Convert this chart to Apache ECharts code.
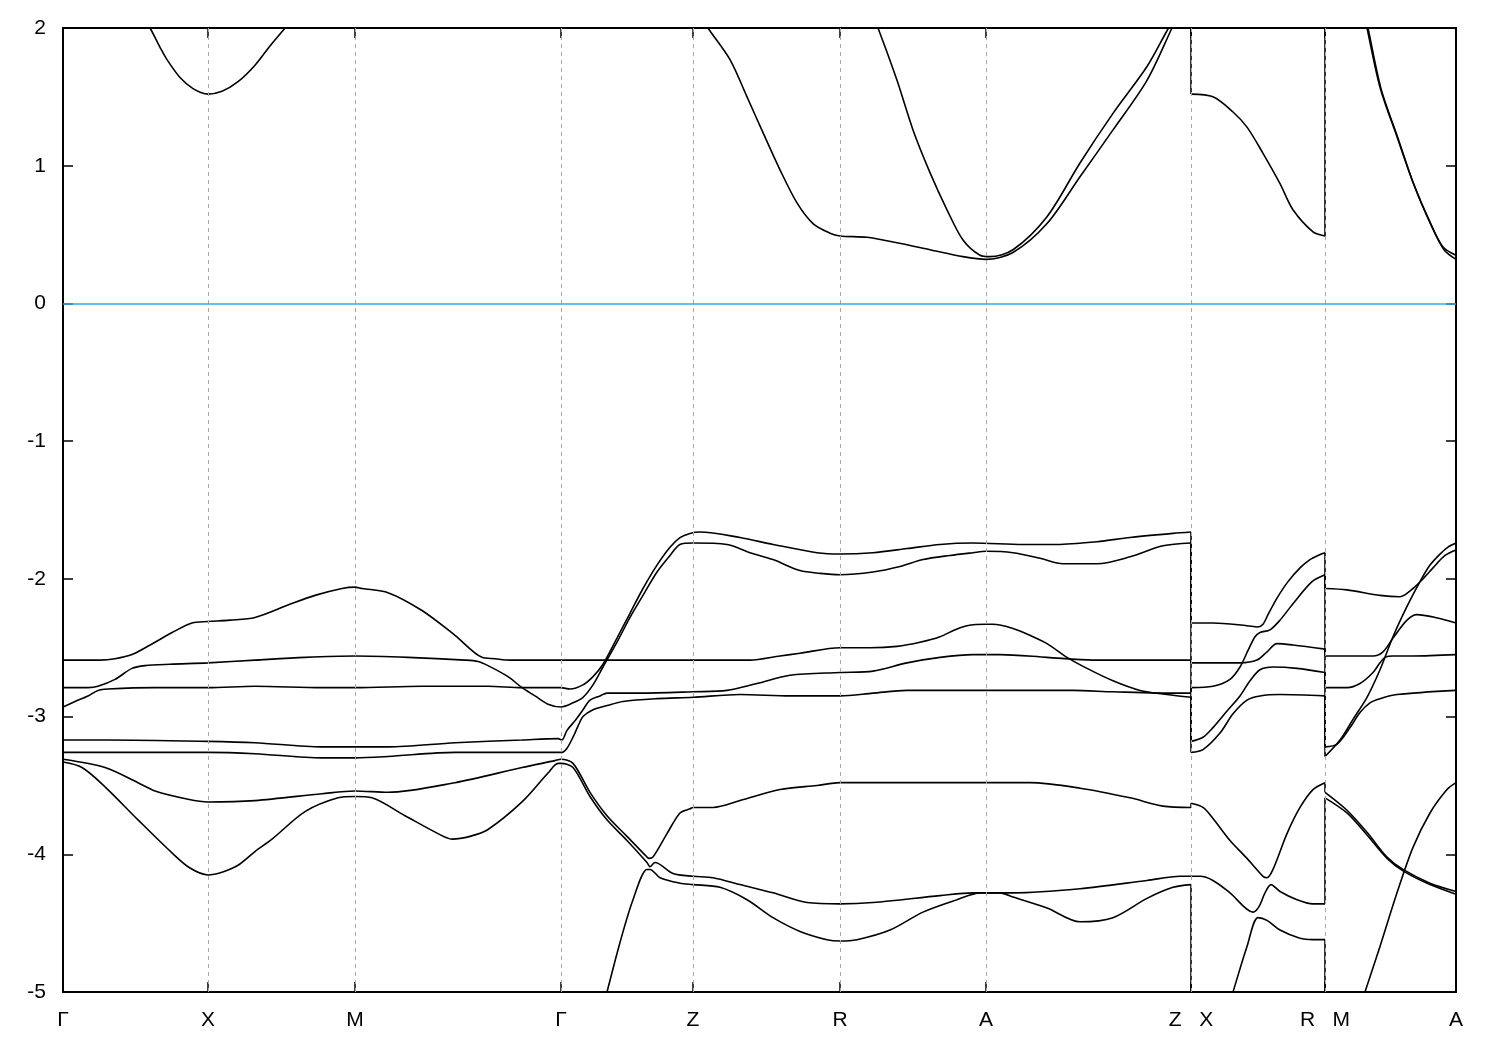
<!DOCTYPE html>
<html><head><meta charset="utf-8">
<script src="https://cdn.jsdelivr.net/npm/echarts@6/dist/echarts.min.js"></script>
<style>html,body{margin:0;padding:0;background:#fff}#main{width:1500px;height:1050px}</style>
</head><body><div id="main"></div>
<script>
// k-path positions of the high-symmetry points and their labels
const KPOS = [0, 145, 292, 498, 630, 777, 923, 1128, 1262, 1393];
const KLABELS = ['Γ', 'X', 'M', 'Γ', 'Z', 'R', 'A', 'Z   X', 'R   M', 'A'];
const YTICKS = [-5, -4, -3, -2, -1, 0, 1, 2];
const FERMI = 0;

// bands: [k, energy (eV)] ; repeated k = jump at a path discontinuity
const BAND_1 = [[0,-2.93],[12,-2.89],[25,-2.85],[35,-2.81],[45,-2.80],[92,-2.79],[145,-2.79],[192,-2.78],[259,-2.79],[292,-2.79],[359,-2.78],[425,-2.78],[459,-2.79],[498,-2.79],
 [507,-2.80],[520,-2.77],[530,-2.71],[540,-2.62],[554,-2.43],[567,-2.25],[580,-2.07],[594,-1.90],[607,-1.77],[617,-1.70],[627,-1.67],[637,-1.66],[677,-1.70],[710,-1.75],[754,-1.81],[777,-1.82],[810,-1.81],[844,-1.78],[877,-1.75],[910,-1.74],[960,-1.75],[994,-1.75],[1034,-1.73],[1067,-1.70],[1110,-1.67],[1128,-1.66],
 [1128,-2.32],[1150,-2.32],[1184,-2.34],[1195,-2.35],[1200,-2.33],[1205,-2.26],[1214,-2.14],[1225,-2.02],[1237,-1.92],[1247,-1.86],[1255,-1.83],[1262,-1.81],
 [1262,-2.07],[1284,-2.08],[1317,-2.12],[1337,-2.13],[1350,-2.07],[1360,-2.00],[1370,-1.92],[1382,-1.83],[1393,-1.79]];
const BAND_2 = [[0,-2.79],[25,-2.79],[35,-2.78],[52,-2.73],[69,-2.65],[82,-2.63],[107,-2.62],[145,-2.61],[192,-2.59],[242,-2.57],[292,-2.56],[345,-2.57],[402,-2.59],[415,-2.60],[425,-2.63],[445,-2.71],[459,-2.79],[472,-2.85],[485,-2.91],[498,-2.93],
 [510,-2.90],[520,-2.86],[530,-2.77],[540,-2.64],[554,-2.46],[567,-2.28],[580,-2.12],[594,-1.95],[607,-1.83],[617,-1.75],[630,-1.74],[664,-1.75],[687,-1.81],[710,-1.86],[737,-1.94],[757,-1.96],[777,-1.97],[810,-1.95],[837,-1.91],[860,-1.86],[887,-1.83],[910,-1.81],[923,-1.80],[950,-1.81],[977,-1.85],[1000,-1.89],[1034,-1.89],[1067,-1.84],[1100,-1.76],[1128,-1.74],
 [1128,-2.61],[1177,-2.61],[1194,-2.59],[1204,-2.53],[1214,-2.47],[1230,-2.48],[1262,-2.51],
 [1262,-2.56],[1310,-2.56],[1320,-2.53],[1330,-2.43],[1344,-2.30],[1354,-2.26],[1372,-2.28],[1393,-2.32]];
const BAND_3 = [[0,-2.59],[37,-2.59],[52,-2.58],[69,-2.55],[92,-2.46],[109,-2.39],[129,-2.32],[145,-2.31],[167,-2.30],[192,-2.28],[225,-2.19],[252,-2.12],[279,-2.07],[292,-2.06],[299,-2.07],[325,-2.10],[359,-2.23],[392,-2.41],[419,-2.57],[432,-2.58],[447,-2.59],[498,-2.59],
 [687,-2.59],[717,-2.56],[737,-2.54],[777,-2.50],[807,-2.50],[834,-2.49],[857,-2.46],[877,-2.42],[892,-2.37],[904,-2.34],[923,-2.33],[930,-2.33],[950,-2.36],[967,-2.41],[984,-2.47],[1004,-2.57],[1024,-2.65],[1050,-2.74],[1077,-2.81],[1104,-2.84],[1128,-2.86],
 [1128,-3.26],[1140,-3.24],[1157,-3.12],[1170,-2.98],[1184,-2.88],[1197,-2.85],[1217,-2.84],[1262,-2.85],
 [1262,-3.29],[1277,-3.17],[1290,-3.02],[1304,-2.86],[1317,-2.66],[1330,-2.42],[1344,-2.20],[1357,-2.02],[1367,-1.90],[1377,-1.82],[1385,-1.77],[1393,-1.74]];
const BAND_4 = [[0,-3.17],[45,-3.17],[145,-3.18],[192,-3.19],[259,-3.22],[292,-3.22],[325,-3.22],[392,-3.19],[459,-3.17],[495,-3.16],[499,-3.17],
 [504,-3.10],[512,-3.03],[520,-2.95],[527,-2.88],[537,-2.85],[544,-2.83],[577,-2.83],[630,-2.82],[664,-2.81],[694,-2.76],[727,-2.70],[777,-2.68],[810,-2.67],[844,-2.61],[877,-2.57],[910,-2.55],[937,-2.55],[984,-2.57],[1030,-2.59],[1128,-2.59],
 [1128,-3.18],[1140,-3.15],[1150,-3.08],[1164,-2.96],[1177,-2.85],[1187,-2.74],[1197,-2.66],[1210,-2.64],[1234,-2.65],[1262,-2.68],
 [1262,-2.79],[1284,-2.79],[1297,-2.76],[1310,-2.68],[1317,-2.61],[1322,-2.57],[1330,-2.56],[1350,-2.56],[1393,-2.55]];
const BAND_5 = [[0,-3.26],[45,-3.26],[145,-3.26],[192,-3.27],[259,-3.30],[292,-3.30],[325,-3.29],[392,-3.26],[459,-3.26],[495,-3.26],[499,-3.26],
 [504,-3.23],[510,-3.15],[515,-3.07],[520,-3.00],[530,-2.95],[544,-2.92],[560,-2.89],[594,-2.87],[630,-2.86],[677,-2.84],[727,-2.85],[777,-2.85],[810,-2.83],[844,-2.81],[937,-2.81],[1010,-2.81],[1050,-2.82],[1117,-2.83],[1128,-2.83],
 [1128,-2.79],[1150,-2.78],[1167,-2.73],[1177,-2.64],[1185,-2.52],[1192,-2.42],[1197,-2.39],[1207,-2.37],[1217,-2.30],[1230,-2.18],[1249,-2.02],[1262,-1.97],
 [1262,-3.22],[1274,-3.20],[1287,-3.08],[1297,-2.97],[1307,-2.90],[1317,-2.87],[1334,-2.84],[1393,-2.81]];
const BAND_6 = [[0,-3.31],[42,-3.37],[75,-3.48],[92,-3.54],[125,-3.60],[145,-3.62],[192,-3.61],[259,-3.56],[292,-3.54],[325,-3.55],[392,-3.48],[459,-3.37],[492,-3.32],[498,-3.31],
 [510,-3.34],[527,-3.55],[544,-3.72],[564,-3.87],[584,-4.02],[586,-4.03],[590,-4.02],[604,-3.85],[617,-3.70],[627,-3.67],[630,-3.66],[650,-3.66],[677,-3.61],[717,-3.53],[754,-3.50],[777,-3.48],[937,-3.48],[967,-3.48],[1017,-3.52],[1067,-3.59],[1100,-3.65],[1128,-3.66],
 [1128,-3.63],[1140,-3.66],[1150,-3.74],[1167,-3.90],[1184,-4.03],[1200,-4.16],[1204,-4.17],[1210,-4.11],[1224,-3.85],[1237,-3.66],[1250,-3.53],[1262,-3.48],
 [1262,-3.55],[1284,-3.68],[1304,-3.84],[1324,-4.02],[1340,-4.11],[1367,-4.21],[1393,-4.27]];
const BAND_7 = [[0,-3.33],[19,-3.37],[42,-3.51],[75,-3.75],[109,-3.99],[127,-4.10],[145,-4.15],[159,-4.13],[175,-4.08],[192,-3.98],[209,-3.89],[242,-3.69],[275,-3.59],[292,-3.58],[309,-3.59],[342,-3.72],[375,-3.85],[389,-3.89],[407,-3.87],[425,-3.82],[459,-3.62],[485,-3.41],[495,-3.34],[498,-3.34],
 [510,-3.37],[527,-3.58],[544,-3.75],[564,-3.90],[584,-4.06],[587,-4.09],[592,-4.06],[610,-4.14],[630,-4.16],[650,-4.17],[677,-4.22],[710,-4.28],[744,-4.35],[777,-4.36],[810,-4.35],[877,-4.30],[910,-4.28],[950,-4.28],[1017,-4.25],[1084,-4.19],[1117,-4.16],[1128,-4.16],
 [1137,-4.16],[1150,-4.19],[1167,-4.28],[1190,-4.42],[1196,-4.38],[1202,-4.28],[1208,-4.22],[1217,-4.27],[1234,-4.33],[1250,-4.36],[1262,-4.36],
 [1262,-3.59],[1284,-3.70],[1304,-3.86],[1324,-4.03],[1340,-4.12],[1367,-4.22],[1393,-4.29]];
const BAND_8 = [[535,-5.25],[544,-5.00],[557,-4.64],[570,-4.33],[584,-4.11],[587,-4.11],[597,-4.17],[617,-4.21],[630,-4.22],[657,-4.24],[684,-4.33],[710,-4.46],[737,-4.56],[764,-4.62],[777,-4.63],[794,-4.62],[827,-4.55],[860,-4.42],[894,-4.33],[917,-4.28],[937,-4.28],[950,-4.31],[984,-4.39],[1017,-4.49],[1050,-4.46],[1084,-4.32],[1110,-4.24],[1128,-4.22],
 [1128,-6.0],[1147,-5.55],[1163,-5.17],[1170,-5.00],[1184,-4.67],[1195,-4.46],[1204,-4.48],[1217,-4.55],[1237,-4.61],[1250,-4.62],[1262,-4.62],
 [1262,-6.0],[1287,-5.35],[1302,-5.00],[1317,-4.67],[1334,-4.28],[1350,-3.95],[1367,-3.70],[1384,-3.53],[1393,-3.48]];
const COND_1 = [[80,2.07],[87,2.0],[97,1.86],[104,1.77],[117,1.64],[130,1.56],[145,1.52],[159,1.54],[175,1.61],[192,1.73],[207,1.87],[222,2.0],[230,2.08]];
const COND_2 = [[637,2.1],[645,2.0],[667,1.77],[684,1.50],[700,1.24],[717,0.97],[734,0.73],[750,0.58],[767,0.51],[777,0.49],[804,0.48],[834,0.44],[867,0.39],[900,0.34],[923,0.32],[950,0.37],[984,0.58],[1017,0.92],[1050,1.26],[1084,1.62],[1109,2.0],[1128,2.29],
 [1128,1.52],[1150,1.50],[1170,1.39],[1184,1.28],[1200,1.09],[1217,0.87],[1230,0.68],[1250,0.52],[1262,0.49],
 [1262,3.3],[1289,2.5],[1304,2.0],[1317,1.57],[1334,1.21],[1350,0.88],[1367,0.59],[1380,0.41],[1393,0.35]];
const COND_3 = [[809,2.1],[815,2.0],[834,1.62],[850,1.26],[867,0.95],[884,0.68],[900,0.46],[917,0.35],[927,0.34],[950,0.39],[984,0.63],[1017,1.02],[1050,1.38],[1084,1.72],[1104,1.98],[1112,2.08]];
const COND_4 = [[1290,2.5],[1305,2.0],[1318,1.56],[1335,1.20],[1351,0.86],[1368,0.57],[1381,0.39],[1393,0.32]];

const BANDS = [BAND_1, BAND_2, BAND_3, BAND_4, BAND_5, BAND_6, BAND_7, BAND_8, COND_1, COND_2, COND_3, COND_4];

const FONT = 'Liberation Sans, Arial, Helvetica, sans-serif';
const chart = echarts.init(document.getElementById('main'), null, {renderer: 'canvas'});

function splitRuns(pts) {
  const runs = [];
  let cur = [pts[0]];
  for (let i = 1; i < pts.length; i++) {
    if (pts[i][0] === pts[i - 1][0]) {
      runs.push({d: cur, s: true});
      runs.push({d: [pts[i - 1], pts[i]], s: false});
      cur = [pts[i]];
    } else cur.push(pts[i]);
  }
  runs.push({d: cur, s: true});
  return runs;
}

const series = [];
series.push({
  type: 'line', data: [], silent: true, z: 1,
  markLine: {
    silent: true, symbol: ['none', 'none'], label: {show: false},
    animation: false,
    data: KPOS.slice(1, KPOS.length - 1).map(k => ({xAxis: k, lineStyle: {color: '#a8a8a8', type: [4, 4], width: 1}}))
      .concat([{yAxis: FERMI, lineStyle: {color: '#3fa9e0', type: 'solid', width: 1.5}}])
  }
});
BANDS.forEach(b => {
  splitRuns(b).forEach(r => {
    series.push({
      type: 'line', data: r.d, smooth: r.s && r.d.length > 2 ? 0.3 : false,
      showSymbol: false, symbol: 'none', silent: true, z: 3, clip: true,
      lineStyle: {color: '#000', width: 1.6}, animation: false
    });
  });
});

const axisLine = {show: true, onZero: false, lineStyle: {color: '#000', width: 2}};
const tick = {show: true, inside: true, length: 10, lineStyle: {color: '#000', width: 1.5}};
chart.setOption({
  animation: false,
  backgroundColor: '#fff',
  grid: {left: 63, right: 44, top: 28, bottom: 58, containLabel: false},
  xAxis: [
    {type: 'value', min: 0, max: 1393, position: 'bottom', axisLine,
     splitLine: {show: false},
     axisTick: Object.assign({customValues: KPOS}, tick),
     axisLabel: {show: true, customValues: KPOS, margin: 18, color: '#000', fontSize: 21, fontFamily: FONT,
       formatter: v => { const i = KPOS.indexOf(v); return i >= 0 ? KLABELS[i] : ''; }}},
    {type: 'value', min: 0, max: 1393, position: 'top', axisLine,
     splitLine: {show: false},
     axisTick: Object.assign({customValues: KPOS}, tick),
     axisLabel: {show: false}}
  ],
  yAxis: [
    {type: 'value', min: -5, max: 2, interval: 1, position: 'left', axisLine,
     splitLine: {show: false},
     axisTick: tick,
     axisLabel: {show: true, margin: 17, color: '#000', fontSize: 21, fontFamily: FONT}},
    {type: 'value', min: -5, max: 2, interval: 1, position: 'right', axisLine,
     splitLine: {show: false},
     axisTick: tick,
     axisLabel: {show: false}}
  ],
  series
});
</script></body></html>
